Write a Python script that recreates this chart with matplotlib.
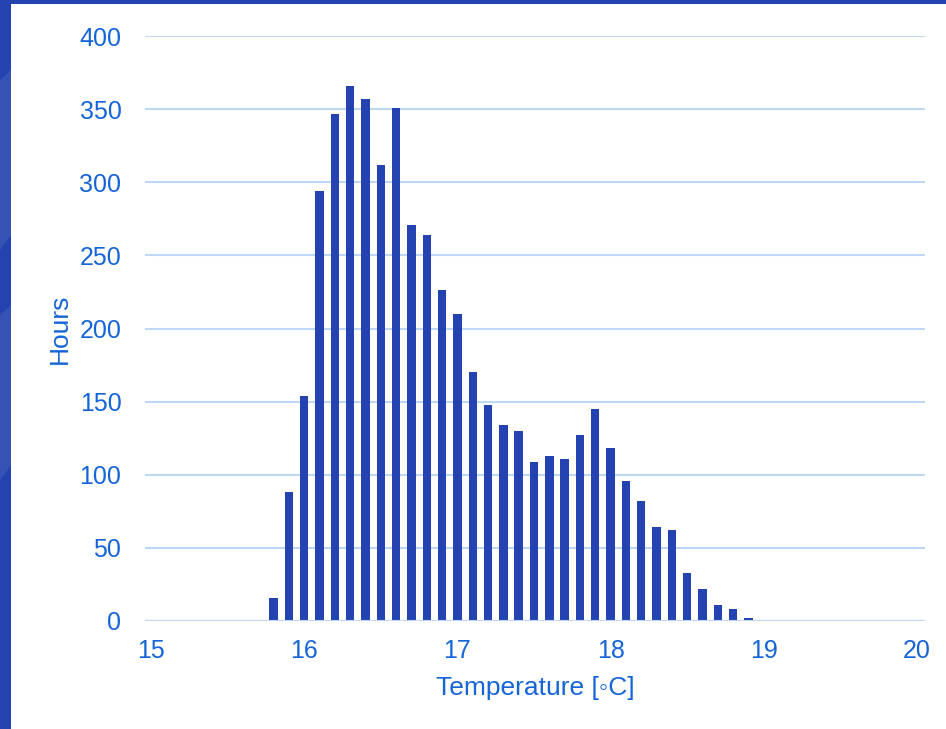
import matplotlib
matplotlib.use("Agg")
import matplotlib.pyplot as plt
from matplotlib.patches import Rectangle, Polygon

# temperature bins [°C] and hours spent in each bin
temps = [15.8, 15.9, 16.0, 16.1, 16.2, 16.3, 16.4, 16.5, 16.6, 16.7,
         16.8, 16.9, 17.0, 17.1, 17.2, 17.3, 17.4, 17.5, 17.6, 17.7,
         17.8, 17.9, 18.0, 18.1, 18.2, 18.3, 18.4, 18.5, 18.6, 18.7,
         18.8, 18.9]
hours = [16, 88, 154, 294, 347, 366, 357, 312, 351, 271,
         264, 226, 210, 170, 148, 134, 130, 109, 113, 111,
         127, 145, 118, 96, 82, 64, 62, 33, 22, 11,
         8, 2]
xticks = [15, 16, 17, 18, 19, 20]
yticks = [0, 50, 100, 150, 200, 250, 300, 350, 400]

W, H = 946, 729
bar_col = '#2443B0'
txt_col = '#1565D8'
grid_col = '#BDD7F5'

plt.rcParams['font.family'] = ['Liberation Sans', 'DejaVu Sans']

fig = plt.figure(figsize=(W / 100, H / 100), dpi=100)
fig.patch.set_facecolor(bar_col)

# lighter streaks on the blue frame + white page
fig.patches.append(Polygon([(0, 1 - 80 / H), (11 / W, 1 - 70 / H), (11 / W, 1 - 235 / H), (0, 1 - 250 / H)],
                           closed=True, transform=fig.transFigure, facecolor='#3553B5', edgecolor='none', zorder=-3))
fig.patches.append(Polygon([(0, 1 - 315 / H), (11 / W, 1 - 305 / H), (11 / W, 1 - 465 / H), (0, 1 - 480 / H)],
                           closed=True, transform=fig.transFigure, facecolor='#3553B5', edgecolor='none', zorder=-3))
fig.patches.append(Rectangle((11 / W, 0), 1 - 11 / W, 1 - 4 / H, transform=fig.transFigure,
                             facecolor='white', edgecolor='none', zorder=-2))

ax = fig.add_axes([145 / W, 1 - 621 / H, 780 / W, 585 / H])
ax.set_zorder(5)
ax.set_facecolor('none')
ax.bar(temps, hours, width=0.055, color=bar_col, zorder=3)

ax.set_xlim(15 - 6 / 153.2, 20 + 8 / 153.2)
ax.set_ylim(0, 400)
ax.set_xticks(xticks)
ax.set_yticks(yticks)
ax.yaxis.grid(True, color=grid_col, linewidth=1.5, zorder=0)
ax.axhline(0, color=grid_col, linewidth=1.5, zorder=4)
for s in ax.spines.values():
    s.set_visible(False)
ax.tick_params(length=0, labelsize=18, colors=txt_col)
ax.tick_params(axis='y', pad=17)
ax.tick_params(axis='x', pad=13)

ax.set_xlabel('Temperature [\u25e6C]', fontsize=19, color=txt_col)
ax.set_ylabel('Hours', fontsize=19, color=txt_col)
ax.xaxis.set_label_coords(0.5, -0.094)
ax.yaxis.set_label_coords(-0.094, 0.5)

fig.savefig('out.png', dpi=100)
